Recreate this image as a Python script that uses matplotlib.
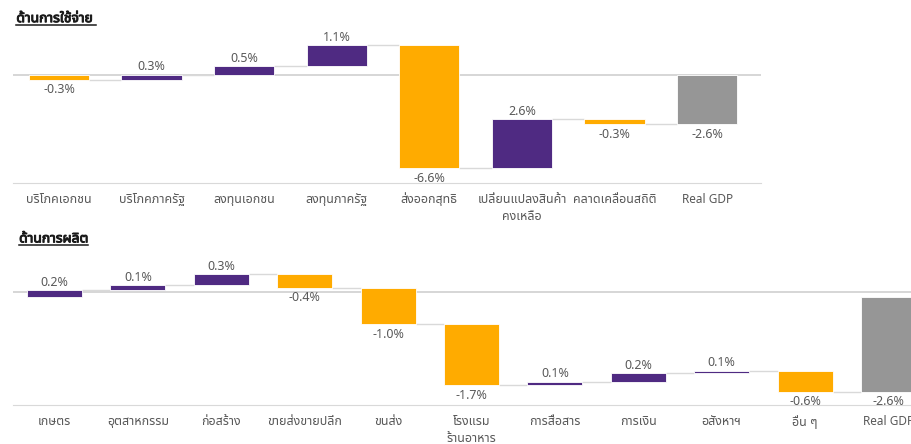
import matplotlib
matplotlib.use('Agg')
import matplotlib.pyplot as plt
import matplotlib.patheffects as pe
import numpy as np

# Thai glyphs come from Noto Sans Thai UI, latin/digits from Noto Sans
plt.rcParams['font.family'] = ['Noto Sans', 'Noto Sans Thai UI']

# --- data (contributions to real GDP growth, % points) ---
spend_title = 'ด้านการใช้จ่าย '
spend_labels = ['บริโภคเอกชน', 'บริโภคภาครัฐ', 'ลงทุนเอกชน', 'ลงทุนภาครัฐ',
                'ส่งออกสุทธิ', 'เปลี่ยนแปลงสินค้า\nคงเหลือ', 'คลาดเคลื่อนสถิติ']
spend_values = [-0.26, 0.27, 0.46, 1.12, -6.60, 2.63, -0.26]

prod_title = 'ด้านการผลิต'
prod_labels = ['เกษตร', 'อุตสาหกรรม', 'ก่อสร้าง', 'ขายส่งขายปลีก', 'ขนส่ง',
               'โรงแรม\nร้านอาหาร', 'การสื่อสาร', 'การเงิน', 'อสังหาฯ', 'อื่น ๆ']
prod_values = [0.18, 0.14, 0.29, -0.36, -1.00, -1.68, 0.10, 0.24, 0.06, -0.58]

total_label = 'Real GDP'

PURPLE = '#4F2A82'
ORANGE = '#FFAB00'
GREY = '#969696'
TXT = '#595959'
LINE = '#D9D9D9'


def waterfall(ax, labels, values, width, axis_y=0.0):
    values = np.array(values)
    ends = np.cumsum(values)
    starts = ends - values
    total = ends[-1]
    x = np.arange(len(values) + 1)

    bottoms = np.append(np.minimum(starts, ends), min(0, total))
    heights = np.append(np.abs(values), abs(total))
    colors = [PURPLE if v > 0 else ORANGE for v in values] + [GREY]
    ax.bar(x, heights, width, bottom=bottoms, color=colors,
           edgecolor='white', linewidth=0.6, zorder=3)

    # thin connectors between the floating bars
    ax.hlines(ends, x[:-1] + width / 2, x[1:] - width / 2,
              color=LINE, linewidth=1, zorder=2)

    # axis line
    ax.axhline(axis_y, color='#D0D0D0', linewidth=1.2, zorder=1)

    # value labels
    shown = np.append(values, total)
    for xi, v, b, h in zip(x, shown, bottoms, heights):
        if v >= 0:
            ax.annotate(f'{v:.1f}%', (xi, b + h), xytext=(0, 1),
                        textcoords='offset points', ha='center', va='bottom',
                        fontsize=9, color=TXT)
        else:
            ax.annotate(f'{v:.1f}%', (xi, b), xytext=(0, -2.5),
                        textcoords='offset points', ha='center', va='top',
                        fontsize=9, color=TXT)

    ax.set_xticks(x, labels + [total_label], fontsize=9, color=TXT,
                  linespacing=1.45)
    ax.get_xticklabels()[-1].set_fontsize(8.5)
    ax.tick_params(axis='x', length=0, pad=7)
    ax.set_yticks([])
    for s in ['top', 'left', 'right']:
        ax.spines[s].set_visible(False)
    ax.spines['bottom'].set_color(LINE)


fig = plt.figure(figsize=(9.11, 4.44), dpi=100)

ax1 = fig.add_axes([0.0139, 0.588, 0.8213, 0.327])
waterfall(ax1, spend_labels, spend_values, 0.65)
ax1.set_xlim(-0.5, 7.58)
ax1.set_ylim(-5.8, 2.0)

ax2 = fig.add_axes([0.01405, 0.0878, 1.007, 0.326])
# the original draws its axis line a little above zero
waterfall(ax2, prod_labels, prod_values, 0.66, axis_y=0.13)
ax2.set_xlim(-0.5, 10.5)
ax2.set_ylim(-2.97, 1.0)

# no bold Thai face installed, so thicken the titles with a stroke
bold = [pe.withStroke(linewidth=0.7, foreground='#1A1A1A')]
t1 = fig.text(0.018, 0.958, spend_title, fontsize=10, color='#1A1A1A',
              va='center', path_effects=bold)
t2 = fig.text(0.021, 0.462, prod_title, fontsize=10, color='#1A1A1A',
              va='center', path_effects=bold)

# underline the section titles
fig.canvas.draw()
inv = fig.transFigure.inverted()
for t in [t1, t2]:
    bb = t.get_window_extent()
    (x0, y0), (x1, _) = inv.transform([(bb.x0, bb.y0), (bb.x1, bb.y1)])
    fig.add_artist(plt.Line2D([x0, x1], [y0 + 0.003, y0 + 0.003],
                              color='#1A1A1A', linewidth=1.1))

fig.savefig('out.png', dpi=100)
